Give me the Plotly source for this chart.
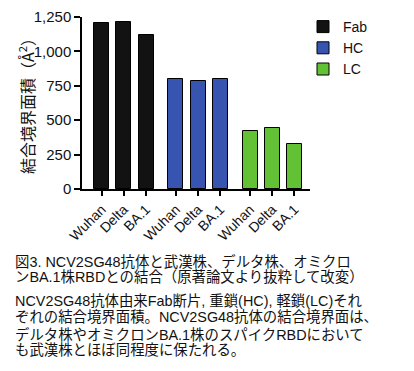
import plotly.graph_objects as go

groups = ["Fab", "HC", "LC"]
variants = ["Wuhan", "Delta", "BA.1"]
fab_vals = [1205, 1212, 1120]
hc_vals = [803, 783, 803]
lc_vals = [423, 445, 330]
colors = ["#121212", "#3755b0", "#62c135"]
y_ticks = [0, 250, 500, 750, 1000, 1250]
y_title = "結合境界面積（Å<sup>2</sup>）"
caption_lines = [
    "図3. NCV2SG48抗体と武漢株、デルタ株、オミクロ",
    "ンBA.1株RBDとの結合（原著論文より抜粋して改変）",
]
desc_lines = [
    "NCV2SG48抗体由来Fab断片, 重鎖(HC), 軽鎖(LC)それ",
    "ぞれの結合境界面積。NCV2SG48抗体の結合境界面は、",
    "デルタ株やオミクロンBA.1株のスパイクRBDにおいて",
    "も武漢株とほぼ同程度に保たれる。",
]

# the page body has an 8px margin; lay out in page pixels and offset
OFF = 8
W, H = 414 - OFF, 371 - OFF
PL, PR, PT, PB = 82, 310, 17, 189  # plot area in page pixels
ML, MT = PL - OFF, PT - OFF
MR, MB = 414 - PR, 371 - PB
PW, PH = PR - PL, PB - PT


def px_x(x):
    return (x - PL) / PW


def px_y(y):
    return (PB - y) / PH


series = [fab_vals, hc_vals, lc_vals]
group_step = 3.35
fig = go.Figure()
tickvals, ticktext = [], []
for gi, (name, vals, col) in enumerate(zip(groups, series, colors)):
    xs = [gi * group_step + i for i in range(len(vals))]
    tickvals += xs
    ticktext += variants
    fig.add_trace(go.Bar(
        x=xs, y=vals, name=name, width=0.68,
        marker=dict(color=col, line=dict(color="#000000", width=1)),
    ))

fig.update_layout(
    width=W, height=H,
    margin=dict(l=ML, r=MR, t=MT, b=MB, autoexpand=False),
    plot_bgcolor="white", paper_bgcolor="white",
    font=dict(family="Liberation Sans, Noto Sans CJK JP", color="#111111"),
    showlegend=True,
    legend=dict(x=px_x(303), y=px_y(11), xanchor="left", yanchor="top",
                font=dict(size=14, family="Liberation Sans"),
                tracegroupgap=3, bgcolor="rgba(0,0,0,0)"),
    bargap=0,
)
fig.update_xaxes(
    range=[-0.89, 2 * group_step + 2 + 0.7],
    tickvals=tickvals, ticktext=ticktext, tickangle=-45,
    showline=True, linecolor="black", linewidth=1.5,
    ticks="outside", ticklen=5, tickwidth=1.5, tickcolor="black",
    showgrid=False, zeroline=False, automargin=False,
    tickfont=dict(size=14, family="Liberation Sans", color="#111111"),
)
fig.update_yaxes(
    range=[0, 1250], tickvals=y_ticks, tickformat=",d",
    showline=True, linecolor="black", linewidth=1.5,
    ticks="outside", ticklen=6, tickwidth=1.5, tickcolor="black",
    showgrid=False, zeroline=False, automargin=False,
    ticklabeloverflow="allow",
    tickfont=dict(size=15, family="Liberation Sans", color="#111111"),
)

# y-axis title
fig.add_annotation(text=y_title, xref="paper", yref="paper",
                   x=px_x(26), y=px_y(102), xanchor="center", yanchor="middle",
                   textangle=-90, showarrow=False,
                   font=dict(size=16, family="Noto Sans CJK JP", color="#111111"))

y_positions = [261, 277, 301, 317, 334, 350]
for t, yp in zip(caption_lines + desc_lines, y_positions):
    fig.add_annotation(text=t, xref="paper", yref="paper",
                       x=px_x(13), y=px_y(yp),
                       xanchor="left", yanchor="middle", showarrow=False,
                       font=dict(size=14.4, family="Liberation Sans, Noto Sans CJK JP",
                                 color="#111111"))

fig.write_html("out.html")
